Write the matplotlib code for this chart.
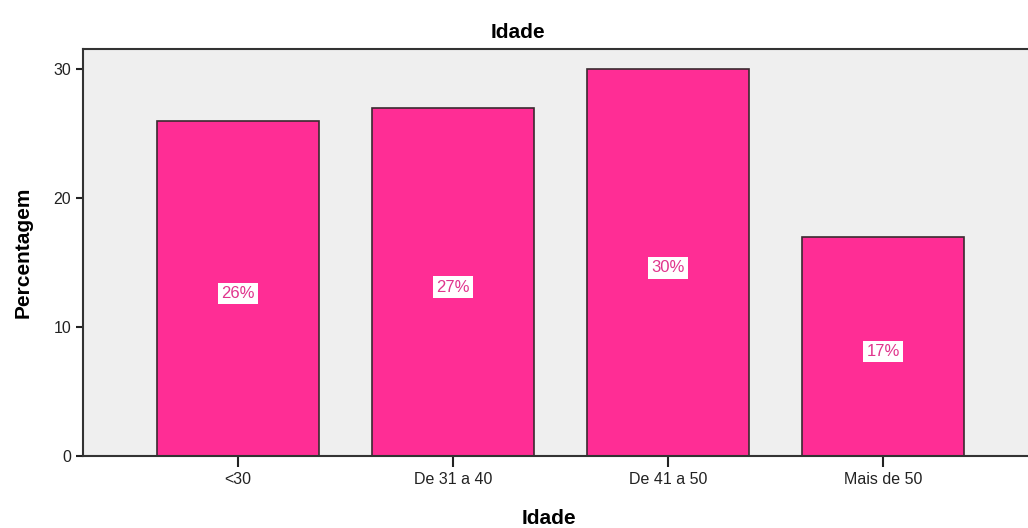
import matplotlib.pyplot as plt

categories = ['<30', 'De 31 a 40', 'De 41 a 50', 'Mais de 50']
percentages = [26, 27, 30, 17]

plt.rcParams['font.family'] = ['Liberation Sans', 'DejaVu Sans']

fig = plt.figure(figsize=(10.28, 5.28), dpi=100)
ax = fig.add_axes([0.0807, 0.1364, 0.9193, 0.7706])
ax.set_facecolor('#efefef')

x = range(len(categories))
bars = ax.bar(x, percentages, width=0.753, color='#ff2d95', edgecolor='#3a2a30', linewidth=1.2)

for xi, v in zip(x, percentages):
    ax.text(xi, v / 2 - 0.4, f'{v}%', ha='center', va='center', fontsize=12,
            color='#e0358d',
            bbox=dict(boxstyle='square,pad=0.2', facecolor='white', edgecolor='none'))

ax.set_xlim(-0.72, 3.674)
ax.set_ylim(0, 31.55)
ax.set_yticks([0, 10, 20, 30])
ax.set_xticks(list(x))
ax.set_xticklabels(categories)
ax.tick_params(axis='y', length=5, width=1.5, labelsize=11.5, colors='#222222')
ax.tick_params(axis='x', length=8, width=1.5, labelsize=11.5, colors='#222222')

for side in ['left', 'bottom', 'top']:
    ax.spines[side].set_linewidth(1.5)
    ax.spines[side].set_color('#333333')
ax.spines['right'].set_visible(False)

ax.set_title('Idade', fontsize=15, fontweight='bold', pad=8, x=0.46)
ax.set_xlabel('Idade', fontsize=15, fontweight='bold', labelpad=16, x=0.493)
ax.set_ylabel('Percentagem', fontsize=15, fontweight='bold', labelpad=15)

fig.savefig('out.png', dpi=100)
